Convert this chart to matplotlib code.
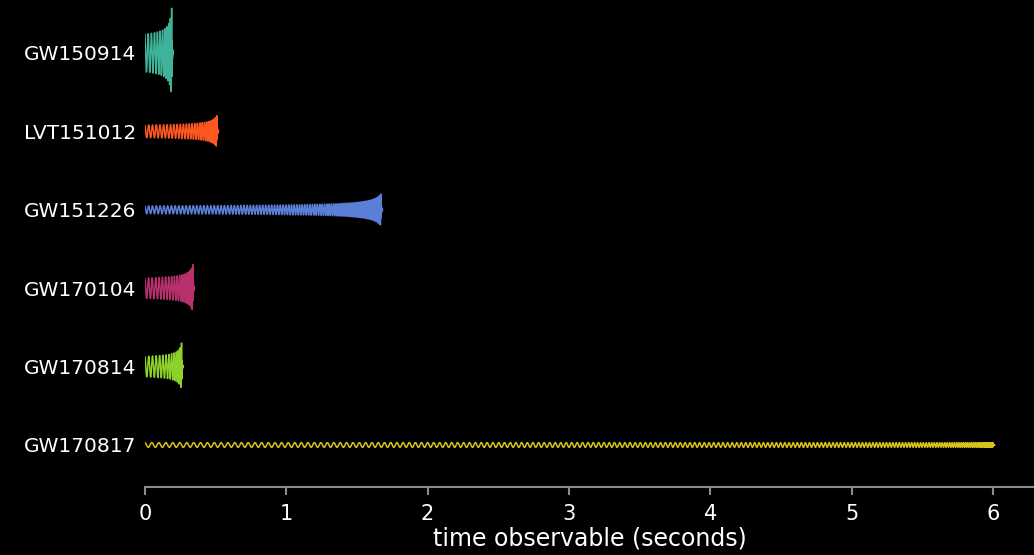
import numpy as np
import matplotlib.pyplot as plt

# events, top to bottom
events = ['GW150914', 'LVT151012', 'GW151226', 'GW170104', 'GW170814', 'GW170817']
durations = [0.19, 0.51, 1.67, 0.34, 0.26, 6.0]       # seconds until merger
cycles = [11, 26, 90, 18, 13, 185]                     # oscillations shown in the band
amp_start = [0.24, 0.08, 0.05, 0.13, 0.13, 0.03]       # early inspiral half height (row units)
amp_peak = [0.57, 0.20, 0.20, 0.30, 0.30, 0.03]        # half height at merger
colors = ['#3fb39a', '#ff5722', '#5b7fd6', '#b8306e', '#8fd12c', '#d8c21c']

plt.rcParams['font.family'] = ['DejaVu Sans']
fig = plt.figure(figsize=(10.34, 5.55), dpi=100, facecolor='black')
ax = fig.add_axes([0.140, 0.1225, 0.86, 0.8775], facecolor='black')

n = len(events)
for i, name in enumerate(events):
    row = n - 1 - i
    T = durations[i]
    eps = min(T * 0.05, 0.04)
    t = np.linspace(0, T, 30000)
    tau = T + eps - t
    tau0 = T + eps
    # chirp: frequency and amplitude rise toward merger
    ph = (1 - (tau / tau0) ** 0.625) / (1 - (eps / tau0) ** 0.625)
    env = ((tau0 / tau) ** 0.6 - 1) / ((tau0 / eps) ** 0.6 - 1)
    amp = amp_start[i] + (amp_peak[i] - amp_start[i]) * env
    h = amp * np.cos(2 * np.pi * cycles[i] * ph)
    # short ringdown after the peak
    tr = np.linspace(0, 0.012, 300)
    hr = amp_peak[i] * np.exp(-tr / 0.003) * np.cos(2 * np.pi * cycles[i] + 2 * np.pi * 250 * tr)
    x = np.concatenate([t, T + tr])
    y = np.concatenate([h, hr]) + row
    ax.plot(x, y, color=colors[i], lw=1.1)

ax.set_xlim(0, 6.29)
ax.set_ylim(-0.536, 5.676)
ax.set_yticks(range(n - 1, -1, -1))
ax.set_yticklabels(events)
ax.set_xticks(range(7))
ax.tick_params(axis='y', length=0, pad=6, labelsize=14.5, labelcolor='white')
ax.tick_params(axis='x', length=6, width=1.5, color='#8a8a8a', labelsize=15,
               labelcolor='white', pad=6)
for s in ['left', 'top', 'right']:
    ax.spines[s].set_visible(False)
ax.spines['bottom'].set_color('#8a8a8a')
ax.spines['bottom'].set_linewidth(1.5)
ax.set_xlabel('time observable (seconds)', color='white', fontsize=17, labelpad=2)

fig.savefig('out.png', facecolor='black')
